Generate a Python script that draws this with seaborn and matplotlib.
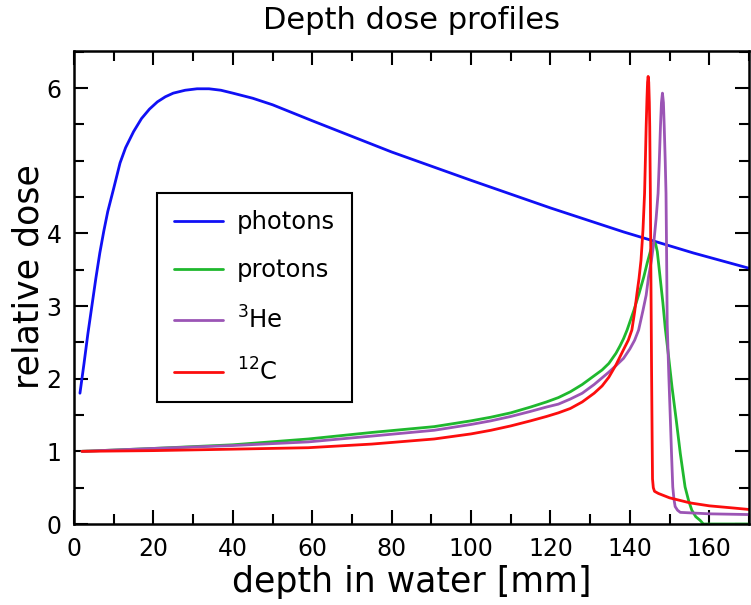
import numpy as np
import pandas as pd
import matplotlib
matplotlib.use("Agg")
import matplotlib.pyplot as plt
import seaborn as sns
from matplotlib.ticker import MultipleLocator, FixedLocator
from matplotlib.lines import Line2D

# ---- data ----
photon_x = [1.5, 2.5, 3.5, 4.5, 5.5, 6.5, 7.5, 8.5, 10, 11.6, 13, 15, 17, 19, 21, 23, 25, 28, 31, 34, 37, 40, 45, 50, 60, 80, 100, 120, 138.4, 156, 170]
photon_y = [1.80, 2.20, 2.62, 3.00, 3.38, 3.73, 4.03, 4.30, 4.62, 4.97, 5.18, 5.40, 5.58, 5.71, 5.81, 5.88, 5.93, 5.97, 5.99, 5.99, 5.97, 5.93, 5.86, 5.77, 5.55, 5.12, 4.73, 4.35, 4.02, 3.73, 3.52]

proton_x = [2, 20, 40, 59, 75, 90.7, 100, 105, 110, 115, 119, 122, 125, 128, 131, 133, 134.7, 136.5, 137.5, 138.4, 139.3, 141, 142.3, 143.5, 144.4, 145.2, 145.7, 146.1, 146.5, 146.9, 147.6, 148.3, 148.9, 149.8, 150.6, 151.7, 152.7, 153.9, 154.8, 155.6, 156.6, 157.7, 158.5, 170]
proton_y = [1.0, 1.04, 1.09, 1.17, 1.26, 1.34, 1.42, 1.47, 1.53, 1.61, 1.68, 1.74, 1.82, 1.92, 2.04, 2.12, 2.21, 2.35, 2.45, 2.55, 2.67, 2.94, 3.17, 3.40, 3.60, 3.76, 3.84, 3.88, 3.85, 3.75, 3.40, 3.05, 2.70, 2.28, 1.89, 1.42, 0.97, 0.51, 0.32, 0.19, 0.10, 0.05, 0.0, 0.0]

he3_x = [2, 20, 40, 59, 75, 90.7, 100, 105, 110, 115, 119, 122, 125, 128, 131, 134.7, 136.5, 138.4, 140, 141.2, 142.2, 143.3, 144.1, 144.7, 145.4, 146.0, 146.6, 147.1, 147.4, 147.7, 147.95, 148.2, 148.45, 148.65, 148.9, 149.1, 149.25, 149.4, 149.8, 150.2, 150.5, 150.8, 151.1, 151.4, 152.0, 152.7, 160, 170]
he3_y = [1.0, 1.04, 1.08, 1.13, 1.21, 1.29, 1.37, 1.42, 1.48, 1.55, 1.61, 1.65, 1.72, 1.80, 1.92, 2.09, 2.18, 2.28, 2.41, 2.53, 2.67, 2.94, 3.15, 3.40, 3.62, 3.86, 4.20, 4.55, 4.98, 5.47, 5.80, 5.93, 5.80, 5.47, 5.00, 4.55, 3.70, 2.75, 2.05, 1.43, 0.95, 0.51, 0.34, 0.24, 0.19, 0.16, 0.14, 0.13]

c12_x = [2, 20, 40, 59, 75, 90.7, 100, 105, 110, 115, 119, 122, 125, 128, 131, 133, 134.7, 136.5, 138.4, 139.6, 140.5, 141.2, 141.8, 142.3, 142.8, 143.3, 143.7, 143.9, 144.1, 144.3, 144.45, 144.6, 144.75, 144.9, 145.0, 145.15, 145.3, 145.45, 145.6, 145.7, 145.9, 146.2, 147.2, 150, 155.2, 160, 166.1, 170]
c12_y = [1.0, 1.01, 1.03, 1.05, 1.10, 1.17, 1.24, 1.29, 1.35, 1.42, 1.48, 1.53, 1.59, 1.68, 1.80, 1.90, 2.02, 2.19, 2.40, 2.53, 2.67, 2.92, 3.18, 3.38, 3.63, 4.05, 4.55, 5.00, 5.47, 5.85, 6.08, 6.16, 6.08, 5.80, 5.47, 4.60, 3.40, 2.20, 1.20, 0.62, 0.50, 0.45, 0.42, 0.36, 0.29, 0.25, 0.22, 0.20]

series_names = ["photons", "protons", "$^{3}$He", "$^{12}$C"]
series_colors = ["#1010f5", "#1fb82e", "#9b55b5", "#fc0d0d"]

xlim = (0, 170)
ylim = (0, 6.51)
xticks_major = [0, 20, 40, 60, 80, 100, 120, 140, 160]
yticks_major = [0, 1, 2, 3, 4, 6]

frames = []
for name, xs, ys in zip(series_names,
                        [photon_x, proton_x, he3_x, c12_x],
                        [photon_y, proton_y, he3_y, c12_y]):
    frames.append(pd.DataFrame({"depth": xs, "dose": ys, "series": name}))
df = pd.concat(frames, ignore_index=True)

sns.set_style("ticks")
plt.rcParams["font.family"] = ["DejaVu Sans"]
plt.rcParams["mathtext.fontset"] = "dejavusans"
plt.rcParams["text.color"] = "black"
plt.rcParams["axes.labelcolor"] = "black"
plt.rcParams["xtick.color"] = "black"
plt.rcParams["ytick.color"] = "black"

fig = plt.figure(figsize=(7.51, 6.05), dpi=100)
ax = fig.add_axes([74 / 751, 1 - 524 / 605, 675 / 751, 473 / 605])

palette = dict(zip(series_names, series_colors))
sns.lineplot(data=df, x="depth", y="dose", hue="series", hue_order=series_names,
             palette=palette, linewidth=2.0, ax=ax, sort=False, estimator=None,
             legend=False)

ax.set_xlim(*xlim)
ax.set_ylim(*ylim)
ax.xaxis.set_major_locator(FixedLocator(xticks_major))
ax.xaxis.set_minor_locator(MultipleLocator(10))
ax.yaxis.set_major_locator(FixedLocator(yticks_major))
ax.yaxis.set_minor_locator(MultipleLocator(0.5))

ax.tick_params(axis="both", which="both", direction="in", top=True, right=True,
               width=1.5, colors="black")
ax.tick_params(axis="x", which="major", length=10, labelsize=17, pad=9)
ax.tick_params(axis="y", which="major", length=10, labelsize=17, pad=9)
ax.tick_params(axis="both", which="minor", length=7)
for s in ax.spines.values():
    s.set_linewidth(1.8)
    s.set_color("black")

ax.set_xlabel("depth in water [mm]", fontsize=25, labelpad=3, color="black")
ax.set_ylabel("relative dose", fontsize=25, color="black")
ax.yaxis.set_label_coords((46 - 74) / 675, (524 - 277) / 473)
ax.set_title("Depth dose profiles", fontsize=22, pad=16, color="black")

handles = [Line2D([0], [0], color=c, linewidth=2.0) for c in series_colors]
leg = ax.legend(handles, series_names, loc="upper left",
                bbox_to_anchor=(157 / 751, 1 - 193 / 605), bbox_transform=fig.transFigure,
                fontsize=17.5, frameon=True, fancybox=False, framealpha=1,
                edgecolor="black", handlelength=2.0, handletextpad=0.6,
                labelspacing=1.0, borderpad=0.7, borderaxespad=0)
leg.get_frame().set_linewidth(1.5)
for t in leg.get_texts():
    t.set_color("black")

fig.savefig("out.png", dpi=100)
